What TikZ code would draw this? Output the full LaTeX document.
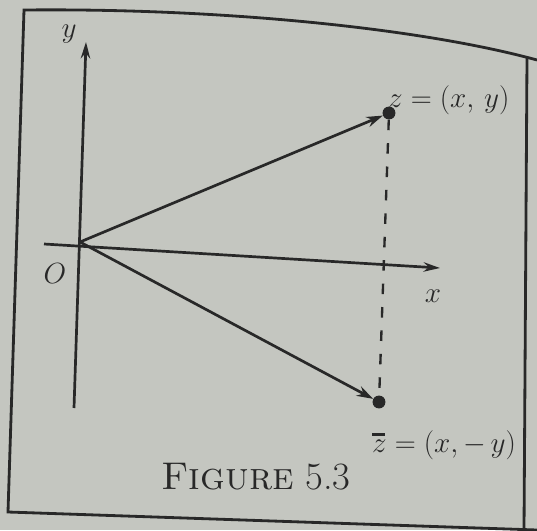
\documentclass[tikz,border=0pt]{standalone}
\usepackage{tikz}
\usetikzlibrary{arrows.meta, positioning}
\definecolor{paper}{RGB}{196,198,192}
\definecolor{ink}{RGB}{40,40,40}
\tikzset{%
	every dot/.style={
		circle,
		fill=ink,
		inner sep=0pt,
		minimum size=11pt
	},
	axis line/.style={
		draw=ink,
		line width=2.3pt
	},
	vector line/.style={
		draw=ink,
		line width=2.3pt,
		-{Stealth[length=14pt,width=9pt]}
	},
	math label/.style={
		text=ink,
		font=\fontsize{23}{27}\selectfont
	},
	axis label/.style={
		text=ink,
		font=\fontsize{30}{34}\selectfont
	},
}

\begin{document}
\begin{tikzpicture}[x=0.03cm, y=-0.03cm, >=stealth]
			
			\fill [paper] (0,0) rectangle (537,530);
			\useasboundingbox (0,0) rectangle (537,530);
			
			% frame of the page
			\draw [ink, line width=2.4pt] (537,60) .. controls (420,28) and (220,8) .. (24,10)
			-- (8,512) -- (537,530);
			\draw [ink, line width=2.4pt] (527,58) -- (524,530);
			
			\coordinate (O) at (80,242);
			\coordinate (y-top) at (86,42);
			\coordinate (y-bot) at (74,408);
			\coordinate (x-left) at (44,244);
			\coordinate (x-right) at (440,268);
			
			\node [every dot] (z) at (389,113) {};
			\node [every dot] (zbar) at (379,402) {};
			
			\draw [axis line, -{Stealth[length=14pt,width=8pt]}] (y-bot) -- (y-top);
			\draw [axis line, -{Stealth[length=14pt,width=8pt]}] (x-left) -- (x-right);
			
			\draw [vector line] (O) -- (z);
			\draw [vector line] (O) -- (zbar);
			\draw [ink, line width=2pt, dash pattern=on 9pt off 11pt] (z) -- (zbar);
			
			\node [axis label] (y-lab) at (69,34) {$y$};
			\node [axis label] (O-lab) at (55,274) {$O$};
			\node [axis label] (x-lab) at (433,296) {$x$};
			\node [math label, anchor=west] (z-lab) at (384,100) {$z = (x,\, y)$};
			\node [math label, anchor=west] (zbar-lab) at (368,445)
			{$\rlap{\rule[0.62em]{0.46em}{1.8pt}}z = (x, -\,y)$};
			
			\node [text=ink, font=\fontsize{33}{38}\selectfont] (caption) at (256,477) {\textsc{Figure} 5.3};
			
		\end{tikzpicture}
\end{document}
